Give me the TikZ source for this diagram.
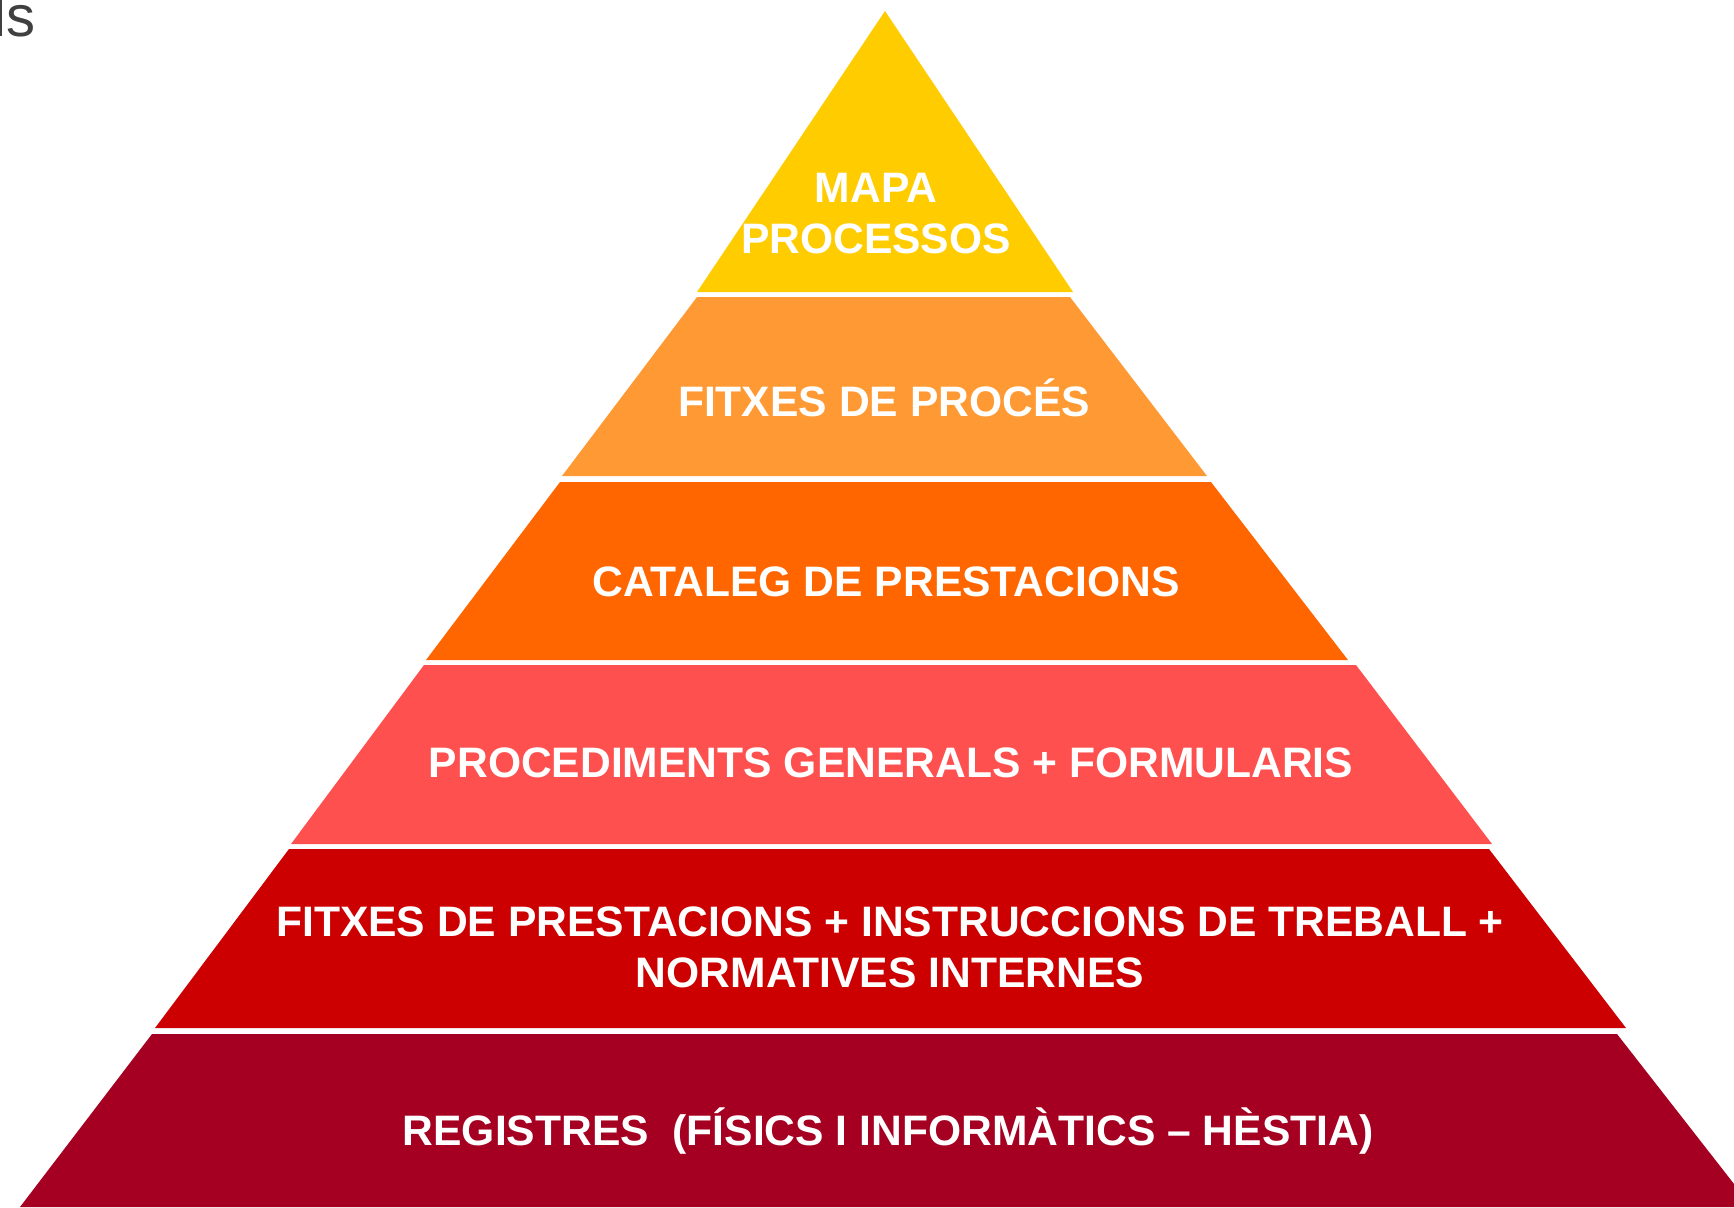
\documentclass[tikz,border=0pt]{standalone}
\usepackage{fontspec}
\setmainfont{Liberation Sans}
\definecolor{lvOne}{HTML}{FFCC00}
\definecolor{lvTwo}{HTML}{FF9933}
\definecolor{lvThree}{HTML}{FF6600}
\definecolor{lvFour}{HTML}{FF5050}
\definecolor{lvFive}{HTML}{CC0000}
\definecolor{lvSix}{HTML}{A50021}
\definecolor{cutgray}{HTML}{404040}
\begin{document}
\begin{tikzpicture}[x=0.5pt,y=-0.5pt,
  lbl/.style={text=white,font=\bfseries\fontsize{21.3}{25.3}\selectfont,align=center,inner sep=0pt,anchor=base}]
\useasboundingbox (0,0) rectangle (1734,1207);
% layers
\fill[lvOne] (885,11) -- (697,292) -- (1073,292) -- cycle;
\fill[lvTwo] (697,297) -- (1070,297) -- (1207,476) -- (562,476) -- cycle;
\fill[lvThree] (560,482) -- (1211,482) -- (1348,660) -- (426,660) -- cycle;
\fill[lvFour] (424,665) -- (1356,665) -- (1492,844) -- (291,844) -- cycle;
\fill[lvFive] (289,849) -- (1489,849) -- (1626,1028) -- (155,1028) -- cycle;
\fill[lvSix] (152,1034) -- (1617,1034) -- (1752,1207) -- (20,1207) -- cycle;
% labels (base anchor of a two-line node is its last line)
\node[lbl] (mapa) at (876,253) {MAPA\\PROCESSOS};
\node[lbl] (fproc) at (884,416) {FITXES DE PROCÉS};
\node[lbl] (catal) at (886,596) {CATALEG DE PRESTACIONS};
\node[lbl] (proced) at (891,777) {PROCEDIMENTS GENERALS + FORMULARIS};
\node[lbl] (fprest) at (890,987) {FITXES DE PRESTACIONS + INSTRUCCIONS DE TREBALL +\\NORMATIVES INTERNES};
\node[lbl] (regis) at (888,1145) {REGISTRES\ \ (FÍSICS I INFORMÀTICS – HÈSTIA)};
% cut-off text at top left, as in the reference
\node[anchor=base west,inner sep=0pt,text=cutgray,font=\fontsize{29}{34}\selectfont] (cut) at (-6.5,36) {ls};
\end{tikzpicture}
\end{document}
